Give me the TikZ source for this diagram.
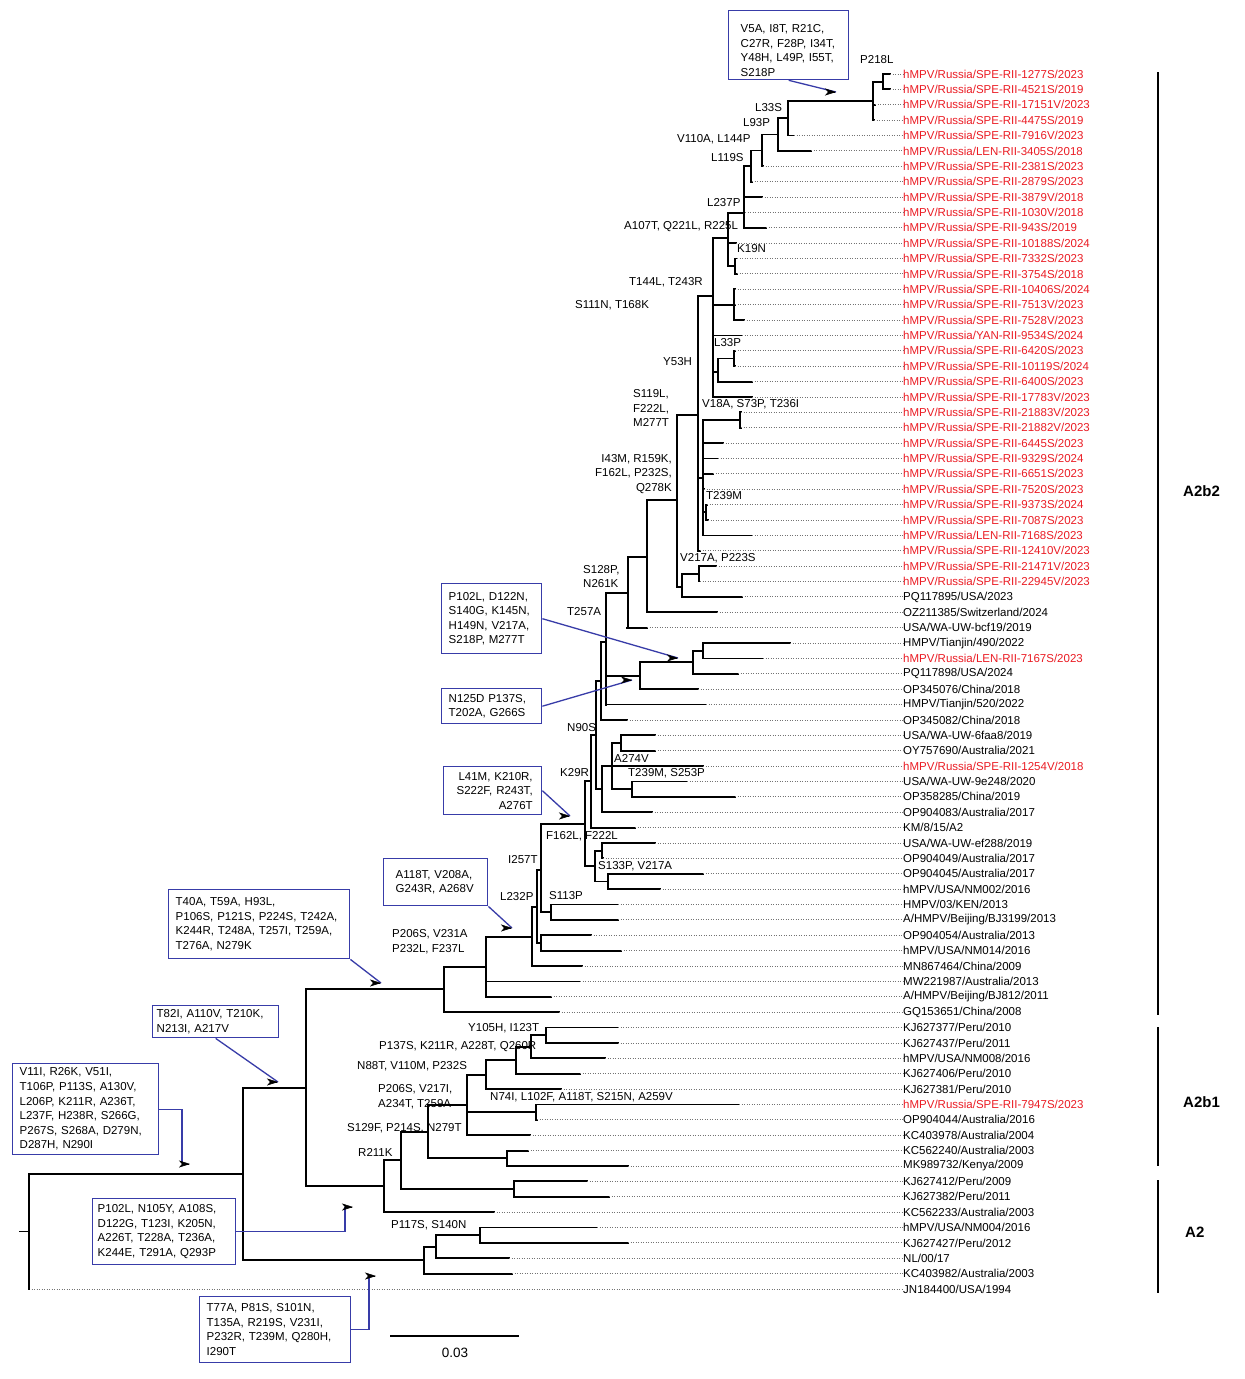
\documentclass[tikz,border=0pt]{standalone}
\usepackage{fontspec}
\setmainfont{Liberation Sans}
\usepackage{tikz}
\usetikzlibrary{arrows.meta}

\definecolor{boxblue}{RGB}{56,60,168}
\definecolor{guidegray}{RGB}{115,115,115}
\definecolor{rusred}{RGB}{235,28,36}
\newcommand{\lbfont}{\fontsize{11.5}{14.6}\selectfont}

% leaf: index, parent x, tip x, colour, name
\newcommand{\lf}[5]{%
  \pgfmathsetmacro{\ly}{74+15.38*(#1-1)}
  \draw[branch] (#2,\ly) -- (#3,\ly);
  \node[taxon,text=#4] (L#1) at (903,\ly) {#5};
  \draw[guide] (#3,\ly) -- (L#1.west);
}
% clade: parent x, x, stem y, top y, bottom y
\newcommand{\cl}[5]{\draw[branch] (#1,#3) -- (#2,#3) (#2,#4) -- (#2,#5);}
% black arrow head pointing right
\newcommand{\ahd}[1]{\draw[black,line width=0.5pt,-{Stealth[length=11pt,width=7pt,inset=3pt]}] ([xshift=-1pt]#1) -- (#1);}

\begin{document}
\begin{tikzpicture}[x=1pt,y=-1pt,
  branch/.style={line width=1.8pt,line cap=rect},
  guide/.style={draw=guidegray,line width=0.9pt,dash pattern=on 0.9pt off 1.6pt},
  taxon/.style={anchor=west,inner sep=0pt,font=\lbfont},
  mut/.style={anchor=west,inner sep=0pt,font=\lbfont,align=left},
  mbox/.style={draw=boxblue,line width=1.4pt,anchor=north west,inner xsep=7pt,inner ysep=0pt,align=left,font=\lbfont},
  con/.style={draw=boxblue,line width=1.3pt},
  grp/.style={anchor=west,inner sep=0pt,font=\fontsize{15}{18}\selectfont\bfseries}]
\useasboundingbox (0,0) rectangle (1245,1379);
\fill[white] (0,0) rectangle (1245,1379);

% taxa
\lf{1}{883}{890}{rusred}{hMPV/Russia/SPE-RII-1277S/2023}
\lf{2}{883}{890}{rusred}{hMPV/Russia/SPE-RII-4521S/2019}
\lf{3}{873}{875}{rusred}{hMPV/Russia/SPE-RII-17151V/2023}
\lf{4}{873}{874}{rusred}{hMPV/Russia/SPE-RII-4475S/2019}
\lf{5}{788}{794}{rusred}{hMPV/Russia/SPE-RII-7916V/2023}
\lf{6}{778}{811}{rusred}{hMPV/Russia/LEN-RII-3405S/2018}
\lf{7}{762}{763}{rusred}{hMPV/Russia/SPE-RII-2381S/2023}
\lf{8}{751}{752}{rusred}{hMPV/Russia/SPE-RII-2879S/2023}
\lf{9}{744}{762}{rusred}{hMPV/Russia/SPE-RII-3879V/2018}
\lf{10}{744}{745}{rusred}{hMPV/Russia/SPE-RII-1030V/2018}
\lf{11}{744}{766}{rusred}{hMPV/Russia/SPE-RII-943S/2019}
\lf{12}{728}{736}{rusred}{hMPV/Russia/SPE-RII-10188S/2024}
\lf{13}{735}{737}{rusred}{hMPV/Russia/SPE-RII-7332S/2023}
\lf{14}{735}{737}{rusred}{hMPV/Russia/SPE-RII-3754S/2018}
\lf{15}{734}{735}{rusred}{hMPV/Russia/SPE-RII-10406S/2024}
\lf{16}{734}{735}{rusred}{hMPV/Russia/SPE-RII-7513V/2023}
\lf{17}{734}{744}{rusred}{hMPV/Russia/SPE-RII-7528V/2023}
\lf{18}{713}{742}{rusred}{hMPV/Russia/YAN-RII-9534S/2024}
\lf{19}{734}{735}{rusred}{hMPV/Russia/SPE-RII-6420S/2023}
\lf{20}{734}{735}{rusred}{hMPV/Russia/SPE-RII-10119S/2024}
\lf{21}{718}{752}{rusred}{hMPV/Russia/SPE-RII-6400S/2023}
\lf{22}{713}{752}{rusred}{hMPV/Russia/SPE-RII-17783V/2023}
\lf{23}{740}{741}{rusred}{hMPV/Russia/SPE-RII-21883V/2023}
\lf{24}{740}{741}{rusred}{hMPV/Russia/SPE-RII-21882V/2023}
\lf{25}{703}{723}{rusred}{hMPV/Russia/SPE-RII-6445S/2023}
\lf{26}{703}{718}{rusred}{hMPV/Russia/SPE-RII-9329S/2024}
\lf{27}{703}{713}{rusred}{hMPV/Russia/SPE-RII-6651S/2023}
\lf{28}{703}{704}{rusred}{hMPV/Russia/SPE-RII-7520S/2023}
\lf{29}{706}{707}{rusred}{hMPV/Russia/SPE-RII-9373S/2024}
\lf{30}{706}{708}{rusred}{hMPV/Russia/SPE-RII-7087S/2023}
\lf{31}{703}{752}{rusred}{hMPV/Russia/LEN-RII-7168S/2023}
\lf{32}{698}{700}{rusred}{hMPV/Russia/SPE-RII-12410V/2023}
\lf{33}{699}{716}{rusred}{hMPV/Russia/SPE-RII-21471V/2023}
\lf{34}{699}{700}{rusred}{hMPV/Russia/SPE-RII-22945V/2023}
\lf{35}{682}{742}{black}{PQ117895/USA/2023}
\lf{36}{647}{717}{black}{OZ211385/Switzerland/2024}
\lf{37}{627}{647}{black}{USA/WA-UW-bcf19/2019}
\lf{38}{703}{790}{black}{HMPV/Tianjin/490/2022}
\lf{39}{703}{763}{rusred}{hMPV/Russia/LEN-RII-7167S/2023}
\lf{40}{693}{738}{black}{PQ117898/USA/2024}
\lf{41}{640}{698}{black}{OP345076/China/2018}
\lf{42}{606}{706}{black}{HMPV/Tianjin/520/2022}
\lf{43}{601}{627}{black}{OP345082/China/2018}
\lf{44}{621}{655}{black}{USA/WA-UW-6faa8/2019}
\lf{45}{621}{655}{black}{OY757690/Australia/2021}
\lf{46}{612}{703}{rusred}{hMPV/Russia/SPE-RII-1254V/2018}
\lf{47}{632}{687}{black}{USA/WA-UW-9e248/2020}
\lf{48}{632}{735}{black}{OP358285/China/2019}
\lf{49}{602}{652}{black}{OP904083/Australia/2017}
\lf{50}{591}{635}{black}{KM/8/15/A2}
\lf{51}{602}{655}{black}{USA/WA-UW-ef288/2019}
\lf{52}{602}{603}{black}{OP904049/Australia/2017}
\lf{53}{608}{703}{black}{OP904045/Australia/2017}
\lf{54}{608}{660}{black}{hMPV/USA/NM002/2016}
\lf{55}{551}{618}{black}{HMPV/03/KEN/2013}
\lf{56}{551}{618}{black}{A/HMPV/Beijing/BJ3199/2013}
\lf{57}{541}{591}{black}{OP904054/Australia/2013}
\lf{58}{541}{621}{black}{hMPV/USA/NM014/2016}
\lf{59}{532}{582}{black}{MN867464/China/2009}
\lf{60}{486}{580}{black}{MW221987/Australia/2013}
\lf{61}{486}{551}{black}{A/HMPV/Beijing/BJ812/2011}
\lf{62}{444}{559}{black}{GQ153651/China/2008}
\lf{63}{546}{618}{black}{KJ627377/Peru/2010}
\lf{64}{546}{618}{black}{KJ627437/Peru/2011}
\lf{65}{531}{605}{black}{hMPV/USA/NM008/2016}
\lf{66}{516}{580}{black}{KJ627406/Peru/2010}
\lf{67}{486}{561}{black}{KJ627381/Peru/2010}
\lf{68}{536}{739}{rusred}{hMPV/Russia/SPE-RII-7947S/2023}
\lf{69}{536}{537}{black}{OP904044/Australia/2016}
\lf{70}{467}{530}{black}{KC403978/Australia/2004}
\lf{71}{507}{528}{black}{KC562240/Australia/2003}
\lf{72}{507}{628}{black}{MK989732/Kenya/2009}
\lf{73}{514}{587}{black}{KJ627412/Peru/2009}
\lf{74}{514}{609}{black}{KJ627382/Peru/2011}
\lf{75}{384}{494}{black}{KC562233/Australia/2003}
\lf{76}{480}{597}{black}{hMPV/USA/NM004/2016}
\lf{77}{480}{628}{black}{KJ627427/Peru/2012}
\lf{78}{436}{509}{black}{NL/00/17}
\lf{79}{424}{512}{black}{KC403982/Australia/2003}
\lf{80}{29}{29}{black}{JN184400/USA/1994}

% A2b2
\cl{873}{883}{81.7}{74}{89.4}
\cl{788}{873}{100.9}{81.7}{120.1}
\cl{778}{788}{118.2}{100.9}{135.5}
\cl{762}{778}{134.5}{118.2}{150.9}
\cl{751}{762}{150.4}{134.5}{166.3}
\cl{744}{751}{166}{150.4}{181.7}
\cl{728}{744}{213}{166}{227.8}
\cl{728}{735}{266}{258.6}{273.9}
\cl{713}{728}{238}{213}{266}
\cl{713}{734}{305}{289.3}{320.1}
\cl{718}{734}{358.5}{350.8}{366.2}
\cl{713}{718}{372}{358.5}{381.6}
\cl{698}{713}{296}{238}{397}
\cl{703}{740}{420}{412.4}{427.7}
\cl{703}{706}{512.3}{504.6}{520}
\cl{698}{703}{478}{420}{535.4}
\cl{677}{698}{415}{296}{550.8}
\cl{682}{699}{574}{566.2}{581.5}
\cl{677}{682}{587}{574}{596.9}
\cl{647}{677}{500}{415}{587}
\cl{628}{647}{557}{500}{612.3}
\cl{606}{628}{593}{557}{627.7}
\cl{693}{703}{651}{643.1}{658.4}
\cl{640}{693}{662}{651}{673.8}
\cl{606}{640}{676}{662}{689.2}
\cl{601}{606}{642}{593}{704.6}
\cl{596}{601}{681}{642}{720}
\cl{612}{621}{743}{735.3}{750.7}
\cl{612}{632}{789}{781.5}{796.9}
\cl{602}{612}{766}{743}{789}
\cl{596}{602}{789}{766}{812.2}
\cl{591}{596}{735}{681}{789}
\cl{585}{591}{781}{735}{827.6}
\cl{595}{602}{850.7}{843}{858.4}
\cl{595}{608}{881.5}{873.8}{889.1}
\cl{585}{595}{866}{850.7}{881.5}
\cl{541}{585}{824}{781}{866}
\cl{541}{551}{912}{904.5}{919.9}
\cl{537}{541}{870}{824}{912}
\cl{537}{541}{943}{935.3}{950.7}
\cl{532}{537}{907}{870}{943}
\cl{486}{532}{937}{907}{966}
\cl{444}{486}{967}{937}{996.8}
\cl{306}{444}{989}{967}{1012.2}
% A2b1 and A2
\cl{531}{546}{1035.3}{1027.6}{1042.9}
\cl{516}{531}{1046.8}{1035.3}{1058.3}
\cl{486}{516}{1060.2}{1046.8}{1073.7}
\cl{467}{486}{1074.7}{1060.2}{1089.1}
\cl{467}{536}{1112.2}{1104.5}{1119.8}
\cl{428}{467}{1105}{1074.7}{1135.2}
\cl{428}{507}{1158.3}{1150.6}{1166}
\cl{401}{428}{1131.6}{1105}{1158.3}
\cl{401}{514}{1189}{1181.4}{1196.7}
\cl{384}{401}{1160.3}{1131.6}{1189}
\cl{306}{384}{1186.2}{1160.3}{1212.1}
\cl{243}{306}{1087.6}{989}{1186.2}
\cl{436}{480}{1235.2}{1227.5}{1242.9}
\cl{424}{436}{1246.7}{1235.2}{1258.3}
\cl{243}{424}{1260.2}{1246.7}{1273.6}
\cl{29}{243}{1173.9}{1087.6}{1260.2}
\cl{20}{29}{1231.5}{1173.9}{1289}

% substitutions on branches
\node[mut] (mP218L) at (860,60) {P218L};
\node[mut] (mL33S) at (755,108) {L33S};
\node[mut] (mL93P) at (743,123) {L93P};
\node[mut] (mV110A) at (677,139) {V110A, L144P};
\node[mut] (mL119S) at (711,158) {L119S};
\node[mut] (mL237P) at (707,203) {L237P};
\node[mut] (mA107T) at (624,227) {A107T, Q221L, R225L};
\node[mut] (mK19N) at (737,249) {K19N};
\node[mut] (mT144L) at (629,282) {T144L, T243R};
\node[mut] (mS111N) at (575,305) {S111N, T168K};
\node[mut] (mL33P) at (714,343) {L33P};
\node[mut] (mY53H) at (663,362) {Y53H};
\node[mut] (mS119L) at (633,408) {S119L,\\F222L,\\M277T};
\node[mut] (mV18A) at (702,404) {V18A, S73P, T236I};
\node[mut,anchor=east,align=right] (mI43M) at (672,474) {I43M, R159K,\\F162L, P232S,\\Q278K};
\node[mut] (mT239M) at (706,496) {T239M};
\node[mut] (mV217A) at (680,558) {V217A, P223S};
\node[mut] (mS128P) at (583,576.5) {S128P,\\N261K};
\node[mut] (mT257A) at (567,612) {T257A};
\node[mut] (mN90S) at (567,728) {N90S};
\node[mut] (mA274V) at (614,758) {A274V};
\node[mut] (mK29R) at (560,773) {K29R};
\node[mut] (mT239Mb) at (628,773) {T239M, S253P};
\node[mut] (mF162L) at (546,836) {F162L, F222L};
\node[mut] (mI257T) at (508,860) {I257T};
\node[mut] (mS133P) at (598,866) {S133P, V217A};
\node[mut] (mL232P) at (500,897) {L232P};
\node[mut] (mS113P) at (549,896) {S113P};
\node[mut] (mP206S) at (392,941.5) {P206S, V231A\\P232L, F237L};
\node[mut] (mY105H) at (468,1028) {Y105H, I123T};
\node[mut] (mP137S) at (379,1047) {P137S, K211R, A228T, Q260R};
\node[mut] (mN88T) at (357,1066) {N88T, V110M, P232S};
\node[mut] (mP206Sb) at (378,1096.5) {P206S, V217I,\\A234T, T259A};
\node[mut] (mN74I) at (490,1097) {N74I, L102F, A118T, S215N, A259V};
\node[mut] (mS129F) at (347,1128) {S129F, P214S, N279T};
\node[mut] (mR211K) at (358,1152) {R211K};
\node[mut] (mP117S) at (391,1225) {P117S, S140N};

% boxed substitution sets
\node[mbox,text width=96pt,inner xsep=12pt,inner ysep=3pt] (b1) at (728,10) {\rule{0pt}{19pt}V5A, I8T, R21C,\\C27R, F28P, I34T,\\Y48H, L49P, I55T,\\S218P};
\node[mbox,text width=86pt,minimum height=70pt] (b2) at (441,583) {P102L, D122N,\\S140G, K145N,\\H149N, V217A,\\S218P, M277T};
\node[mbox,text width=86pt,minimum height=35pt] (b3) at (441,688) {N125D P137S,\\T202A, G266S};
\node[mbox,text width=80pt,minimum height=48pt,align=right,inner xsep=9pt] (b4) at (443,766) {L41M, K210R,\\S222F, R243T,\\A276T};
\node[mbox,text width=80pt,minimum height=47pt,inner xsep=12pt] (b5) at (383,858) {A118T, V208A,\\G243R, A268V};
\node[mbox,text width=167pt,minimum height=69pt] (b6) at (168,889) {T40A, T59A, H93L,\\P106S, P121S, P224S, T242A,\\K244R, T248A, T257I, T259A,\\T276A, N279K};
\node[mbox,text width=118pt,minimum height=32pt,inner xsep=4pt] (b7) at (152,1005) {T82I, A110V, T210K,\\N213I, A217V};
\node[mbox,text width=132pt,minimum height=91pt] (b8) at (12,1063) {V11I, R26K, V51I,\\T106P, P113S, A130V,\\L206P, K211R, A236T,\\L237F, H238R, S266G,\\P267S, S268A, D279N,\\D287H, N290I};
\node[mbox,text width=133pt,minimum height=66pt,inner xsep=5pt] (b9) at (92,1198) {\makebox[133pt][s]{P102L, N105Y, A108S,}\\\makebox[133pt][s]{D122G, T123I, K205N,}\\\makebox[133pt][s]{A226T, T228A, T236A,}\\K244E, T291A, Q293P};
\node[mbox,text width=137pt,minimum height=66pt] (b10) at (199,1296) {T77A, P81S, S101N,\\T135A, R219S, V231I,\\P232R, T239M, Q280H,\\I290T};

% box connectors
\coordinate (t1) at (836,92);
\coordinate (t2) at (678,658);
\coordinate (t3) at (632,680);
\coordinate (t4) at (570,816);
\coordinate (t5) at (512,928);
\coordinate (t6) at (381,983);
\coordinate (t7) at (278,1082);
\coordinate (c8) at (182,1162);
\coordinate (t8) at (190,1164);
\coordinate (c9) at (345,1207);
\coordinate (t9) at (353,1207);
\coordinate (c10) at (369,1276);
\coordinate (t10) at (376,1276);
\draw[con] (b1.south) -- (t1);
\draw[con] (b2.east) -- (t2);
\draw[con] (b3.east) -- (t3);
\draw[con] (b4.east) -- (t4);
\draw[con] (b5.south east) -- (t5);
\draw[con] (b6.south east) -- (t6);
\draw[con] (b7.south) -- (t7);
\draw[con] (b8.east) -| (c8);
\draw[con] (b9.east) -| (c9);
\draw[con] (b10.east) -| (c10);
\foreach \t in {t1,t2,t3,t4,t5,t6,t7,t8,t9,t10} {\ahd{\t}}

% genotype bars
\draw[line width=2.4pt] (1158,72) -- (1158,1015);
\draw[line width=2.4pt] (1158,1027) -- (1158,1166);
\draw[line width=2.4pt] (1158,1180) -- (1158,1293);
\node[grp] (gA2b2) at (1183,491) {A2b2};
\node[grp] (gA2b1) at (1183,1102) {A2b1};
\node[grp] (gA2) at (1185,1232) {A2};

% scale bar
\draw[line width=1.5pt] (390,1336) -- (519,1336);
\node[inner sep=0pt,font=\fontsize{13.5}{16}\selectfont] (scl) at (455,1353) {0.03};
\end{tikzpicture}
\end{document}
